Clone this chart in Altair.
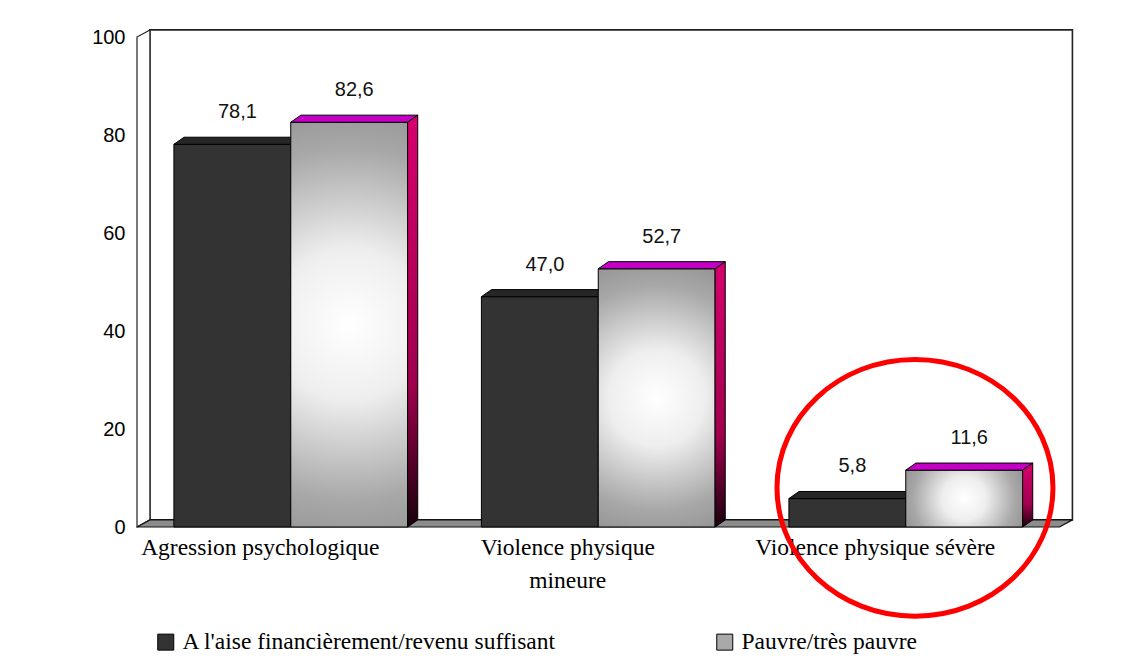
import json
import altair as alt
import pandas as pd

# ---------------- data ----------------
categories = ["Agression psychologique", "Violence physique\nmineure", "Violence physique sévère"]
series = ["A l'aise financièrement/revenu suffisant", "Pauvre/très pauvre"]
values_aise = [78.1, 47.0, 5.8]
values_pauvre = [82.6, 52.7, 11.6]
y_ticks = [0, 20, 40, 60, 80, 100]
highlight = {"category": 2, "value": 8.0}   # red ring around the 3rd group

# ---------------- geometry (category units / value units) ----------------
HALF = 0.38          # width of one bar, in category units
BDX, BDY = 0.033, 1.45   # bar depth
WDX, WDY = 0.042, 1.45   # wall depth
XMIN, XMAX = -0.5, len(categories) - 0.5
YMIN, YMAX = 0, 100


def fmt(v):
    return f"{v:.1f}".replace(".", ",")


bars_dark, bars_gray, tops_dark, tops_gray, sides_gray, labels = [], [], [], [], [], []
for i, (a, p) in enumerate(zip(values_aise, values_pauvre)):
    bars_dark.append({"x0": i - HALF, "x1": i, "v": a, "series": series[0]})
    bars_gray.append({"x0": i, "x1": i + HALF, "v": p, "series": series[1]})
    for lst, x0, x1, v in ((tops_dark, i - HALF, i, a), (tops_gray, i, i + HALF, p)):
        lst += [
            {"id": i, "x": x0, "lo": v, "hi": v},
            {"id": i, "x": x0 + BDX, "lo": v, "hi": v + BDY},
            {"id": i, "x": x1, "lo": v, "hi": v + BDY},
            {"id": i, "x": x1 + BDX, "lo": v + BDY, "hi": v + BDY},
        ]
    sides_gray += [
        {"id": i, "x": i + HALF, "lo": 0, "hi": p},
        {"id": i, "x": i + HALF + BDX, "lo": BDY, "hi": p + BDY},
    ]
    labels.append({"x": i - HALF / 2 + BDX / 2, "v": a + BDY, "t": fmt(a)})
    labels.append({"x": i + HALF / 2 + BDX / 2, "v": p + BDY, "t": fmt(p)})

back_wall = pd.DataFrame([{"x0": XMIN + WDX, "x1": XMAX + WDX, "y0": YMIN + WDY, "y1": YMAX + WDY}])
left_wall = pd.DataFrame([
    {"x": XMIN, "lo": YMIN, "hi": YMAX},
    {"x": XMIN + WDX, "lo": YMIN + WDY, "hi": YMAX + WDY},
])
floor = pd.DataFrame([
    {"x": XMIN, "lo": YMIN, "hi": YMIN},
    {"x": XMIN + WDX, "lo": YMIN, "hi": YMIN + WDY},
    {"x": XMAX, "lo": YMIN, "hi": YMIN + WDY},
    {"x": XMAX + WDX, "lo": YMIN + WDY, "hi": YMIN + WDY},
])
ring = pd.DataFrame([{"x": highlight["category"] + 0.03, "v": highlight["value"]}])

# ---------------- scales / axes ----------------
xscale = alt.Scale(domain=[XMIN, XMAX], nice=False, zero=False)
yscale = alt.Scale(domain=[YMIN, YMAX], nice=False, zero=False)
cat_js = json.dumps(categories, ensure_ascii=False)
xaxis = alt.Axis(
    values=list(range(len(categories))), labelExpr=f"split({cat_js}[datum.value], '\\n')",
    grid=False, ticks=False, domain=False, title=None,
    labelFont="Liberation Serif", labelFontSize=23.5, labelColor="black",
    labelPadding=8, labelOffset=-31, labelLineHeight=33, labelLimit=0,
)
yaxis = alt.Axis(
    values=y_ticks, grid=False, ticks=False, domain=False, title=None,
    labelFont="Liberation Sans", labelFontSize=20, labelColor="black", labelPadding=12,
)


def X(f):
    return alt.X(f, scale=xscale, axis=xaxis)


def Y(f):
    return alt.Y(f, scale=yscale, axis=yaxis, stack=None)


# ---------------- layers ----------------
wall_back = alt.Chart(back_wall).mark_rect(fill="white", stroke="#222", strokeWidth=1.6).encode(
    x=X("x0:Q"), x2="x1:Q", y=Y("y0:Q"), y2="y1:Q")
wall_left = alt.Chart(left_wall).mark_area(orient="vertical", fill="white", stroke="#222", strokeWidth=1.2).encode(
    x=X("x:Q"), y=Y("lo:Q"), y2="hi:Q")
wall_floor = alt.Chart(floor).mark_area(orient="vertical", fill="#8c8c8c", stroke="#111", strokeWidth=1.2).encode(
    x=X("x:Q"), y=Y("lo:Q"), y2="hi:Q")

dark_front = alt.Chart(pd.DataFrame(bars_dark)).mark_rect(stroke="black", strokeWidth=1).encode(
    x=X("x0:Q"), x2="x1:Q", y=Y("v:Q"), y2=alt.Y2(datum=0),
    color=alt.Color("series:N", scale=alt.Scale(domain=series, range=["#333333", "#a9a9a9"]),
                    legend=alt.Legend(
                        title=None, orient="none", direction="horizontal",
                        legendX=17, legendY=593, padding=0,
                        symbolType="square", symbolSize=256, symbolStrokeColor="black",
                        symbolStrokeWidth=1, labelOffset=5, columnPadding=156,
                        labelFont="Liberation Serif", labelFontSize=23.5, labelColor="black",
                        labelLimit=0)))
dark_top = alt.Chart(pd.DataFrame(tops_dark)).mark_area(orient="vertical", fill="#262626", stroke="black", strokeWidth=1).encode(
    x=X("x:Q"), y=Y("lo:Q"), y2="hi:Q", detail="id:N")

gray_grad = alt.RadialGradient(
    gradient="radial", x1=0.5, y1=0.5, r1=0, x2=0.5, y2=0.5, r2=0.62,
    stops=[alt.GradientStop(offset=0, color="#ffffff"),
           alt.GradientStop(offset=0.3, color="#eeeeee"),
           alt.GradientStop(offset=0.7, color="#a8a8a8"),
           alt.GradientStop(offset=1, color="#8a8a8a")])
gray_front = alt.Chart(pd.DataFrame(bars_gray)).mark_rect(fill=gray_grad, stroke="black", strokeWidth=1).encode(
    x=X("x0:Q"), x2="x1:Q", y=Y("v:Q"), y2=alt.Y2(datum=0))
gray_top = alt.Chart(pd.DataFrame(tops_gray)).mark_area(orient="vertical", fill="#c400c4", stroke="black", strokeWidth=1).encode(
    x=X("x:Q"), y=Y("lo:Q"), y2="hi:Q", detail="id:N")
side_grad = alt.LinearGradient(
    gradient="linear", x1=0, y1=0, x2=0, y2=1,
    stops=[alt.GradientStop(offset=0, color="#d6006e"),
           alt.GradientStop(offset=0.65, color="#a0004e"),
           alt.GradientStop(offset=1, color="#1a000c")])
gray_side = alt.Chart(pd.DataFrame(sides_gray)).mark_area(orient="vertical", fill=side_grad, stroke="black", strokeWidth=1).encode(
    x=X("x:Q"), y=Y("lo:Q"), y2="hi:Q", detail="id:N")

value_text = alt.Chart(pd.DataFrame(labels)).mark_text(
    font="Liberation Sans", fontSize=20, color="#111", baseline="alphabetic", dy=-19).encode(
    x=X("x:Q"), y=Y("v:Q"), text="t:N")

ring_mark = alt.Chart(ring).mark_point(
    shape="M -1 0 A 1 0.93 0 1 0 1 0 A 1 0.93 0 1 0 -1 0 Z",
    size=276 * 276, filled=False, stroke="#ff0000", strokeWidth=5, opacity=1).encode(
    x=X("x:Q"), y=Y("v:Q"))

chart = alt.layer(
    wall_back, wall_left, wall_floor,
    dark_front, dark_top, gray_front, gray_top, gray_side,
    value_text, ring_mark,
).properties(
    width=922.5, height=490, autosize="none",
    padding={"left": 129, "top": 29, "right": 60, "bottom": 130},
    background="white",
).configure_view(strokeWidth=0)

chart.save("out.html", embed_options={"renderer": "svg", "actions": False})
